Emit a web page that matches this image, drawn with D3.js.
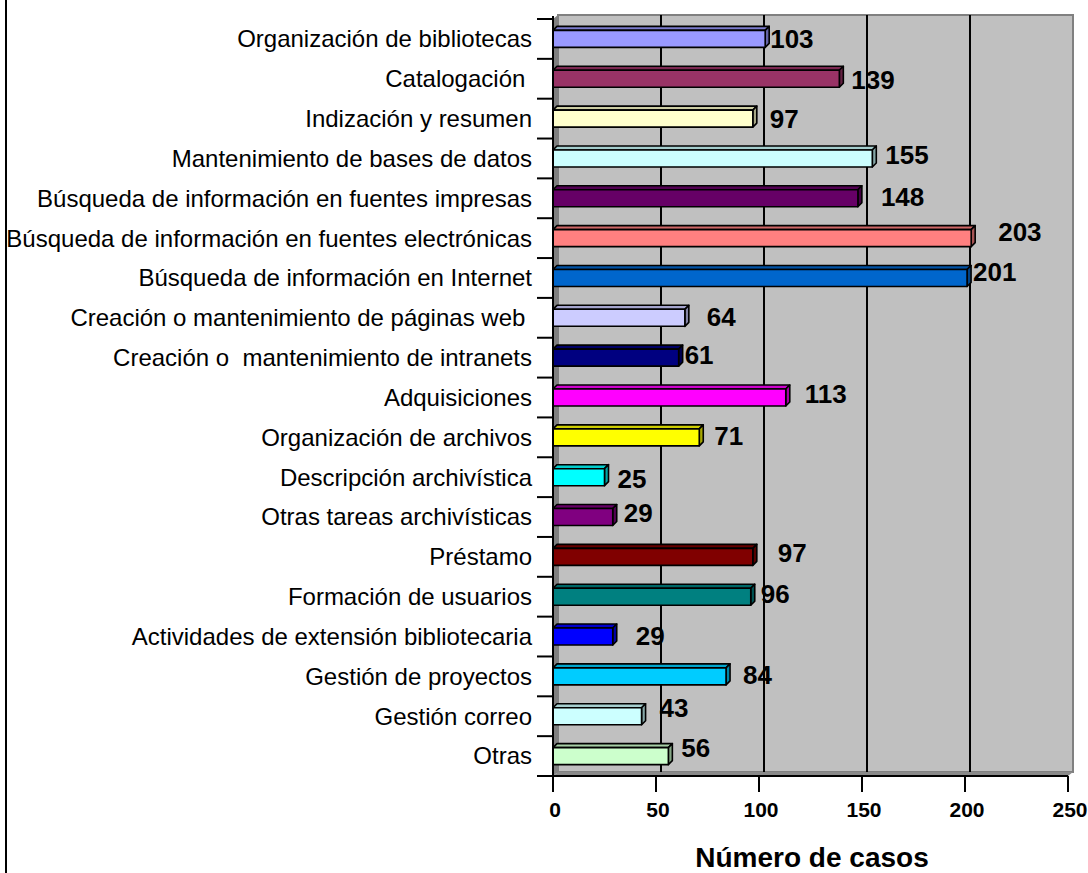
<!DOCTYPE html>
<html lang="es">
<head>
<meta charset="UTF-8">
<title>Número de casos</title>
<script src="https://d3js.org/d3.v7.min.js"></script>
<style>
    body { margin: 0; background: #fff; }
    svg { display: block; font-family: Arial, "Liberation Sans", sans-serif; }
    .cat { white-space: pre; }
</style>
</head>
<body>
<div id="chart"></div>
<script>
    // data, top to bottom as in the chart
    const categories = [
        "Organización de bibliotecas",
        "Catalogación ",
        "Indización y resumen",
        "Mantenimiento de bases de datos",
        "Búsqueda de información en fuentes impresas",
        "Búsqueda de información en fuentes electrónicas",
        "Búsqueda de información en Internet",
        "Creación o mantenimiento de páginas web ",
        "Creación o  mantenimiento de intranets",
        "Adquisiciones",
        "Organización de archivos",
        "Descripción archivística",
        "Otras tareas archivísticas",
        "Préstamo",
        "Formación de usuarios",
        "Actividades de extensión bibliotecaria",
        "Gestión de proyectos",
        "Gestión correo",
        "Otras"
    ];
    const values = [103, 139, 97, 155, 148, 203, 201, 64, 61, 113, 71, 25, 29, 97, 96, 29, 84, 43, 56];
    const barColors = ["#9999ff", "#993366", "#ffffcc", "#ccffff", "#660066", "#ff8080", "#0066cc",
        "#ccccff", "#000080", "#ff00ff", "#ffff00", "#00ffff", "#800080", "#800000", "#008080",
        "#0000ff", "#00ccff", "#ccffff", "#ccffcc"];
    const xTicks = [0, 50, 100, 150, 200, 250];

    // where excel left each data label: [gap after bar, vertical shift]
    const labelNudge = [[1, 0], [8, 1], [13, 0], [9, -4], [19, -2], [23, -6], [2, -6], [18, -1], [2, -3],
        [15, -4], [11, -2], [9, 1], [7, -4], [21, -4], [6, -3], [19, -1], [13, -2], [14, -9], [9, -8]];

    const width = 1088, height = 873;
    const depth = 4;      // bar depth offset
    const wall = 5;       // back wall offset

    const x = d3.scaleLinear().domain([0, 250]).range([553, 1068]);
    const y = d3.scaleBand().domain(categories).range([19, 776]);
    const yTop = y.range()[0], yBot = y.range()[1];
    const barH = 17;

    const svg = d3.select("#chart").append("svg")
        .attr("width", width)
        .attr("height", height);

    // frame line on the left
    svg.append("line")
        .attr("x1", 6).attr("x2", 6).attr("y1", 0).attr("y2", height)
        .attr("stroke", "#000").attr("stroke-width", 2);

    // walls
    const x0 = x(0), x1 = x(250);
    svg.append("rect")
        .attr("x", x0 + wall).attr("y", yTop - wall + 1)
        .attr("width", x1 - x0).attr("height", yBot - yTop)
        .attr("fill", "#c0c0c0").attr("stroke", "#808080").attr("stroke-width", 2);
    svg.append("path")
        .attr("d", `M${x0},${yTop}L${x0 + wall},${yTop - wall + 1}L${x0 + wall},${yBot - wall + 1}L${x0},${yBot}Z`)
        .attr("fill", "#808080");
    svg.append("path")
        .attr("d", `M${x0},${yBot}L${x0 + wall},${yBot - wall + 1}L${x1 + wall},${yBot - wall + 1}L${x1},${yBot}Z`)
        .attr("fill", "#8a8a8a");

    // gridlines on the back wall
    svg.append("g").selectAll("line")
        .data(xTicks.filter(t => t > 0 && t < 250))
        .join("line")
        .attr("x1", d => x(d) + wall).attr("x2", d => x(d) + wall)
        .attr("y1", yTop - wall + 1).attr("y2", yBot - wall + 1)
        .attr("stroke", "#000").attr("stroke-width", 2);

    // bars
    const bars = svg.append("g").selectAll("g")
        .data(values)
        .join("g")
        .attr("stroke", "#000").attr("stroke-width", 1.6).attr("stroke-linejoin", "round");

    bars.each(function (v, i) {
        const g = d3.select(this);
        const c = y(categories[i]) + y.bandwidth() / 2;
        const y0 = c - barH / 2, y1 = c + barH / 2;
        const xe = x(v);
        const col = d3.color(barColors[i]);
        // top face
        g.append("path")
            .attr("d", `M${x0},${y0}L${x0 + depth},${y0 - depth}L${xe + depth},${y0 - depth}L${xe},${y0}Z`)
            .attr("fill", col.darker(0.6));
        // side face
        g.append("path")
            .attr("d", `M${xe},${y0}L${xe + depth},${y0 - depth}L${xe + depth},${y1 - depth}L${xe},${y1}Z`)
            .attr("fill", col.darker(1.2));
        // front face
        g.append("rect")
            .attr("x", x0).attr("y", y0)
            .attr("width", xe - x0).attr("height", barH)
            .attr("fill", col);
    });

    // value labels
    svg.append("g").selectAll("text")
        .data(values)
        .join("text")
        .attr("x", (v, i) => x(v) + depth + labelNudge[i][0])
        .attr("y", (v, i) => y(categories[i]) + y.bandwidth() / 2 + labelNudge[i][1])
        .attr("dy", "0.36em")
        .attr("font-size", 26).attr("font-weight", "bold")
        .text(d => d);

    // y axis
    const yAxis = svg.append("g");
    yAxis.append("line")
        .attr("x1", x0).attr("x2", x0).attr("y1", yTop - 3).attr("y2", yBot)
        .attr("stroke", "#000").attr("stroke-width", 2);
    yAxis.selectAll("line.tick")
        .data(d3.range(categories.length + 1))
        .join("line")
        .attr("class", "tick")
        .attr("x1", x0 - 16).attr("x2", x0)
        .attr("y1", i => yTop + i * y.step()).attr("y2", i => yTop + i * y.step())
        .attr("stroke", "#000").attr("stroke-width", 2);
    yAxis.selectAll("text")
        .data(categories)
        .join("text")
        .attr("class", "cat")
        .attr("x", 532)
        .attr("y", d => y(d) + y.bandwidth() / 2)
        .attr("dy", "0.35em")
        .attr("text-anchor", "end")
        .attr("font-size", 24)
        .text(d => d);

    // x axis
    const xAxis = svg.append("g");
    xAxis.append("line")
        .attr("x1", x0).attr("x2", x1).attr("y1", yBot).attr("y2", yBot)
        .attr("stroke", "#000").attr("stroke-width", 2);
    xAxis.selectAll("line.tick")
        .data(xTicks)
        .join("line")
        .attr("class", "tick")
        .attr("x1", d => x(d)).attr("x2", d => x(d))
        .attr("y1", yBot).attr("y2", yBot + 16)
        .attr("stroke", "#000").attr("stroke-width", 2);
    xAxis.selectAll("text")
        .data(xTicks)
        .join("text")
        .attr("x", d => x(d) + 2)
        .attr("y", 817)
        .attr("text-anchor", "middle")
        .attr("font-size", 21).attr("font-weight", "bold")
        .text(d => d);

    svg.append("text")
        .attr("x", 812).attr("y", 867)
        .attr("text-anchor", "middle")
        .attr("font-size", 28).attr("font-weight", "bold")
        .text("Número de casos");
</script>
</body>
</html>
